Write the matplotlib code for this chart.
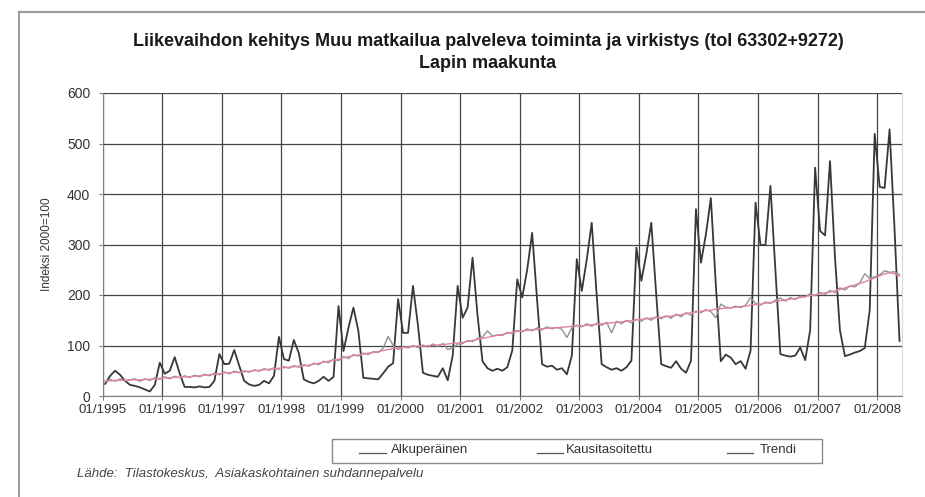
import matplotlib
matplotlib.use('Agg')
import matplotlib.pyplot as plt
from matplotlib.lines import Line2D
from matplotlib.patches import Rectangle
import numpy as np

# ---------------- data (monthly, 01/1995 .. 05/2008) ----------------
alkuperainen = [
    24, 40, 50, 42, 30, 22, 20, 17, 13, 9, 22, 66,          # 1995
    44, 50, 77, 45, 18, 18, 17, 19, 17, 18, 30, 83,         # 1996
    63, 64, 91, 60, 30, 23, 20, 22, 30, 25, 40, 117,        # 1997
    73, 70, 111, 85, 33, 28, 25, 30, 38, 30, 38, 178,       # 1998
    89, 135, 175, 129, 36, 35, 34, 33, 45, 58, 65, 192,     # 1999
    125, 125, 218, 140, 46, 42, 40, 38, 55, 31, 80, 218,    # 2000
    155, 175, 274, 160, 69, 55, 50, 54, 50, 57, 90, 231,    # 2001
    195, 250, 323, 190, 63, 58, 60, 52, 55, 43, 80, 271,    # 2002
    208, 270, 343, 200, 63, 57, 52, 55, 50, 57, 70, 294,    # 2003
    228, 281, 343, 200, 63, 59, 56, 69, 54, 46, 70, 370,    # 2004
    264, 320, 392, 220, 69, 82, 76, 63, 69, 54, 90, 383,    # 2005
    299, 299, 416, 250, 83, 80, 78, 80, 96, 71, 130, 452,   # 2006
    327, 318, 465, 274, 130, 79, 82, 86, 89, 95, 170, 519,  # 2007
    414, 412, 528, 330, 109,                                # 2008
]
kausitasoitettu = [
    28, 33, 29, 34, 30, 32, 34, 29, 34, 31, 36, 33,
    38, 34, 39, 36, 40, 37, 41, 38, 43, 40, 45, 42,
    48, 44, 49, 46, 50, 47, 52, 49, 54, 51, 56, 53,
    58, 55, 60, 57, 62, 59, 65, 62, 69, 66, 73, 70,
    78, 74, 82, 79, 85, 82, 88, 86, 95, 118, 100, 92,
    98, 95, 100, 96, 101, 97, 103, 98, 104, 92, 95, 103,
    104, 110, 108, 114, 117, 129, 119, 121, 120, 126, 124, 130,
    127, 133, 129, 135, 131, 137, 133, 136, 132, 116, 135, 140,
    137, 143, 138, 144, 140, 146, 125, 148, 143, 150, 145, 152,
    148, 155, 150, 157, 153, 159, 154, 162, 157, 165, 160, 168,
    165, 171, 167, 155, 182, 176, 174, 178, 175, 180, 195, 183,
    180, 186, 183, 190, 194, 188, 195, 191, 198, 196, 203, 199,
    205, 201, 209, 205, 214, 210, 218, 216, 224, 242, 233, 236,
    240, 248, 245, 246, 240,
]
trendi = [
    30, 30, 31, 31, 31, 32, 32, 32, 33, 33, 34, 35,
    36, 36, 37, 37, 38, 38, 39, 40, 41, 42, 43, 44,
    46, 46, 47, 47, 48, 49, 50, 51, 52, 53, 54, 55,
    56, 57, 58, 59, 60, 61, 63, 65, 67, 69, 71, 73,
    76, 78, 80, 81, 83, 85, 86, 88, 90, 92, 94, 95,
    96, 97, 98, 99, 99, 100, 100, 101, 102, 103, 104, 105,
    106, 108, 110, 112, 114, 116, 118, 120, 122, 124, 126, 128,
    129, 130, 131, 132, 133, 134, 135, 135, 136, 137, 138, 139,
    139, 140, 141, 142, 143, 144, 145, 146, 147, 148, 149, 151,
    152, 153, 154, 155, 156, 157, 158, 160, 161, 163, 165, 166,
    168, 169, 170, 172, 173, 174, 175, 176, 177, 178, 180, 181,
    182, 184, 185, 187, 189, 190, 192, 193, 195, 197, 199, 200,
    202, 204, 206, 208, 211, 214, 217, 220, 223, 226, 230, 234,
    238, 242, 244, 242, 238,
]
years = list(range(1995, 2009))
tick_labels = [f"01/{y}" for y in years]
series_names = ["Alkuperäinen", "Kausitasoitettu", "Trendi"]
title_lines = ["Liikevaihdon kehitys Muu matkailua palveleva toiminta ja virkistys (tol 63302+9272)",
               "Lapin maakunta"]
ylabel = "Indeksi 2000=100"
source = "Lähde:  Tilastokeskus,  Asiakaskohtainen suhdannepalvelu"

# ---------------- figure ----------------
plt.rcParams['font.family'] = ['Liberation Sans', 'DejaVu Sans']
W, H = 925, 497
fig = plt.figure(figsize=(W / 100, H / 100), dpi=100)
fig.patch.set_facecolor('white')

def fx(px):
    return px / W

def fy(py):
    return 1 - py / H

left_px, right_px, top_px, bot_px = 102.7, 902, 93, 396
ax = fig.add_axes([fx(left_px), fy(bot_px), fx(right_px - left_px), (bot_px - top_px) / H])

x = np.arange(len(alkuperainen))
c_orig, c_sa, c_tr = '#383838', '#939393', '#e3849b'
ax.plot(x, alkuperainen, color=c_orig, lw=1.3, zorder=3)
ax.plot(x, kausitasoitettu, color=c_sa, lw=1.0, zorder=4)
ax.plot(x, trendi, color=c_tr, lw=1.0, zorder=5)

ax.set_xlim(-0.5, len(alkuperainen) - 0.5)
ax.set_ylim(0, 600)
ax.set_yticks(range(0, 601, 100))
ax.set_xticks(np.arange(0, 12 * len(years), 12) - 0.5)
ax.set_xticklabels(tick_labels)
ax.grid(True, color='#454545', lw=0.9, zorder=1)
ax.set_axisbelow(True)
ax.spines['top'].set_visible(False)
ax.spines['right'].set_color('#d8d8d8')
ax.spines['left'].set_color('#808080')
ax.spines['bottom'].set_color('#808080')
ax.tick_params(axis='x', length=3, pad=3, labelsize=9.5, colors='#333333', direction='out')
ax.tick_params(axis='y', length=3, pad=6, labelsize=10, colors='#333333', direction='out')
ax.tick_params(axis='both', color='#808080')
ax.set_ylabel(ylabel, fontsize=8.5, color='#333333', labelpad=10)

# titles
fig.text(fx(488), fy(42), title_lines[0], ha='center', va='center',
         fontsize=13, fontweight='bold', color='#1a1a1a')
fig.text(fx(488), fy(64), title_lines[1], ha='center', va='center',
         fontsize=13, fontweight='bold', color='#1a1a1a')

# outer frame (partially visible)
fig.add_artist(Line2D([fx(19), fx(19)], [fy(12), 0], color='#9a9a9a', lw=1.4))
fig.add_artist(Line2D([fx(19), 1], [fy(12), fy(12)], color='#9a9a9a', lw=1.6))

# legend box
lx0, lx1, ly0, ly1 = 332, 822, 439, 463
fig.add_artist(Rectangle((fx(lx0), fy(ly1)), fx(lx1 - lx0), (ly1 - ly0) / H,
                         fill=False, edgecolor='#8a8a8a', lw=1.0))
leg_items = [(359, 386, 391, c_orig), (537, 563, 566, c_sa), (727, 753, 760, c_tr)]
for (a, b, t, c), name in zip(leg_items, series_names):
    fig.add_artist(Line2D([fx(a), fx(b)], [fy(453), fy(453)], color='#555555', lw=0.9))
    fig.text(fx(t), fy(453), name, ha='left', va='baseline', fontsize=9.5, color='#333333')

# source
fig.text(fx(77), fy(474), source, ha='left', va='center', fontsize=9.5,
         style='italic', color='#444444')

fig.savefig('out.png', dpi=100, facecolor='white')
